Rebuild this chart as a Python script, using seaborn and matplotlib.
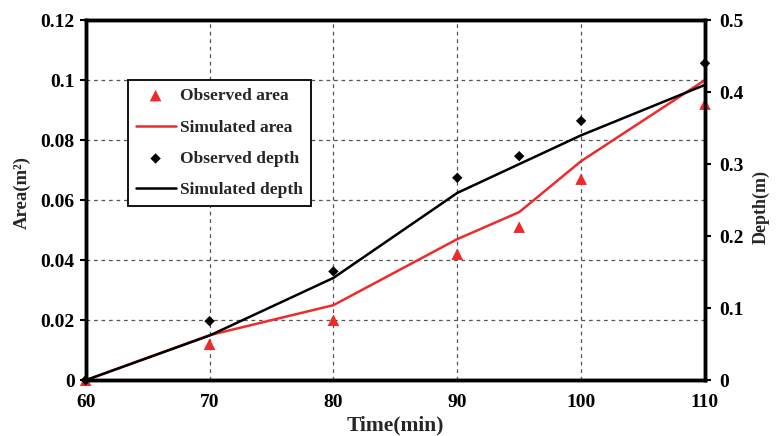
import matplotlib
matplotlib.use("Agg")
import matplotlib.pyplot as plt
import seaborn as sns

# observed / simulated values
time_min = [60, 70, 80, 90, 95, 100, 110]
area_obs = [0.0, 0.012, 0.020, 0.042, 0.051, 0.067, 0.092]
area_sim = [0.0, 0.015, 0.025, 0.047, 0.056, 0.073, 0.100]
depth_obs = [0.0, 0.082, 0.151, 0.281, 0.311, 0.360, 0.440]
depth_sim = [0.0, 0.062, 0.142, 0.260, 0.300, 0.340, 0.410]

x_ticks = [60, 70, 80, 90, 100, 110]
area_ticks = [0, 0.02, 0.04, 0.06, 0.08, 0.1, 0.12]
area_labels = ["0", "0.02", "0.04", "0.06", "0.08", "0.1", "0.12"]
depth_ticks = [0, 0.1, 0.2, 0.3, 0.4, 0.5]
depth_labels = ["0", "0.1", "0.2", "0.3", "0.4", "0.5"]

RED = "#ee2b2b"

sns.set_style("white")
plt.rcParams["font.family"] = ["Liberation Serif", "DejaVu Serif"]
plt.rcParams["font.weight"] = "bold"

fig = plt.figure(figsize=(7.79, 4.36), dpi=100)
ax = fig.add_axes([0.110, 0.128, 0.795, 0.826])
ax2 = ax.twinx()

sns.scatterplot(x=time_min, y=area_obs, ax=ax, marker="^", color=RED, s=70,
                edgecolor="none", label="Observed area", clip_on=False, zorder=5)
sns.lineplot(x=time_min, y=area_sim, ax=ax, color=RED, lw=1.8,
             label="Simulated area", zorder=4)
sns.scatterplot(x=time_min, y=depth_obs, ax=ax2, marker="D", color="black", s=28,
                edgecolor="none", label="Observed depth", clip_on=False, zorder=5)
sns.lineplot(x=time_min, y=depth_sim, ax=ax2, color="black", lw=1.8,
             label="Simulated depth", zorder=4)

ax.set_xlim(60, 110)
ax.set_ylim(0, 0.12)
ax2.set_ylim(0, 0.5)
ax.set_xticks(x_ticks)
ax.set_yticks(area_ticks)
ax.set_yticklabels(area_labels)
ax2.set_yticks(depth_ticks)
ax2.set_yticklabels(depth_labels)

# dashed grid: horizontal on area ticks, vertical on time ticks
for v in x_ticks[1:-1]:
    ax.axvline(v, color="#555555", lw=0.9, ls=(0, (3, 3)), zorder=1)
for h in area_ticks[1:-1]:
    ax.axhline(h, color="#555555", lw=0.9, ls=(0, (3, 3)), zorder=1)

for a in (ax, ax2):
    for s in a.spines.values():
        s.set_linewidth(2.5)
        s.set_color("black")
    a.tick_params(labelsize=14, width=1.5, length=4, direction="out", colors="black")
    for lab in a.get_xticklabels() + a.get_yticklabels():
        lab.set_fontweight("bold")
ax.tick_params(axis="x", length=3, pad=7)
ax.tick_params(axis="y", pad=4)
ax2.tick_params(axis="y", length=4, pad=6)

ax.set_xlabel("Time(min)", fontsize=15.5, fontweight="bold")
ax.xaxis.set_label_coords(0.5, -0.097)
ax.set_ylabel("Area(m²)", fontsize=13.5, fontweight="bold")
ax.yaxis.set_label_coords(-0.088, 0.52)
ax2.set_ylabel("Depth(m)", fontsize=13, fontweight="bold")
ax2.yaxis.set_label_coords(1.077, 0.48)

h1, l1 = ax.get_legend_handles_labels()
h2, l2 = ax2.get_legend_handles_labels()
if ax.get_legend():
    ax.get_legend().remove()
if ax2.get_legend():
    ax2.get_legend().remove()
leg = ax2.legend(h1 + h2, l1 + l2, loc="upper left", bbox_to_anchor=(0.068, 0.833),
                 borderaxespad=0, fancybox=False, framealpha=1, edgecolor="black",
                 handlelength=2.3, handletextpad=0.25, borderpad=0.45,
                 labelspacing=0.88, prop={"size": 12.5, "weight": "bold"})
leg.get_frame().set_linewidth(1.3)
leg.set_zorder(10)

fig.savefig("out.png", dpi=100)
